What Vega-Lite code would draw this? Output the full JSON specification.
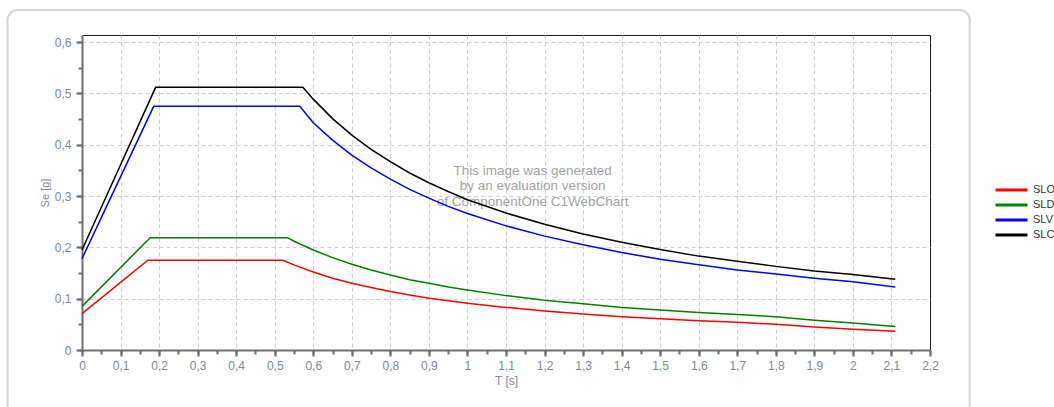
{
  "$schema": "https://vega.github.io/schema/vega-lite/v6.json",
  "width": 848,
  "height": 315,
  "autosize": {"type": "none"},
  "padding": {"left": 82, "top": 35, "right": 124, "bottom": 57},
  "background": "white",
  "config": {
    "font": "Liberation Sans",
    "view": {"stroke": "#1a1a1a", "strokeWidth": 1},
    "axis": {
      "labelFont": "Liberation Sans",
      "titleFont": "Liberation Sans",
      "labelFontSize": 12,
      "titleFontSize": 12,
      "titleFontWeight": "normal",
      "labelColor": "#7d8898",
      "titleColor": "#7d8898",
      "domainColor": "#6e6e6e",
      "domainWidth": 2,
      "tickColor": "#6e6e6e",
      "tickWidth": 2,
      "gridColor": "#cfcfcf",
      "gridDash": [4, 3],
      "gridWidth": 1
    },
    "legend": {
      "labelFont": "Liberation Sans",
      "labelFontSize": 11,
      "labelColor": "#333333"
    }
  },
  "resolve": {"axis": {"x": "independent", "y": "independent"}},
  "datasets": {
    "spectra": [
      {"T": 0, "Se": 0.195, "state": "SLC"},
      {"T": 0.191, "Se": 0.512, "state": "SLC"},
      {"T": 0.573, "Se": 0.512, "state": "SLC"},
      {"T": 0.6, "Se": 0.489, "state": "SLC"},
      {"T": 0.65, "Se": 0.451, "state": "SLC"},
      {"T": 0.7, "Se": 0.419, "state": "SLC"},
      {"T": 0.75, "Se": 0.391, "state": "SLC"},
      {"T": 0.8, "Se": 0.367, "state": "SLC"},
      {"T": 0.85, "Se": 0.345, "state": "SLC"},
      {"T": 0.9, "Se": 0.326, "state": "SLC"},
      {"T": 0.95, "Se": 0.309, "state": "SLC"},
      {"T": 1.0, "Se": 0.293, "state": "SLC"},
      {"T": 1.1, "Se": 0.267, "state": "SLC"},
      {"T": 1.2, "Se": 0.245, "state": "SLC"},
      {"T": 1.3, "Se": 0.226, "state": "SLC"},
      {"T": 1.4, "Se": 0.21, "state": "SLC"},
      {"T": 1.5, "Se": 0.196, "state": "SLC"},
      {"T": 1.6, "Se": 0.183, "state": "SLC"},
      {"T": 1.7, "Se": 0.173, "state": "SLC"},
      {"T": 1.8, "Se": 0.163, "state": "SLC"},
      {"T": 1.9, "Se": 0.154, "state": "SLC"},
      {"T": 2.0, "Se": 0.147, "state": "SLC"},
      {"T": 2.11, "Se": 0.138, "state": "SLC"},

      {"T": 0, "Se": 0.178, "state": "SLV"},
      {"T": 0.186, "Se": 0.475, "state": "SLV"},
      {"T": 0.565, "Se": 0.475, "state": "SLV"},
      {"T": 0.6, "Se": 0.443, "state": "SLV"},
      {"T": 0.65, "Se": 0.409, "state": "SLV"},
      {"T": 0.7, "Se": 0.38, "state": "SLV"},
      {"T": 0.75, "Se": 0.355, "state": "SLV"},
      {"T": 0.8, "Se": 0.333, "state": "SLV"},
      {"T": 0.85, "Se": 0.313, "state": "SLV"},
      {"T": 0.9, "Se": 0.296, "state": "SLV"},
      {"T": 0.95, "Se": 0.28, "state": "SLV"},
      {"T": 1.0, "Se": 0.266, "state": "SLV"},
      {"T": 1.1, "Se": 0.242, "state": "SLV"},
      {"T": 1.2, "Se": 0.222, "state": "SLV"},
      {"T": 1.3, "Se": 0.205, "state": "SLV"},
      {"T": 1.4, "Se": 0.19, "state": "SLV"},
      {"T": 1.5, "Se": 0.177, "state": "SLV"},
      {"T": 1.6, "Se": 0.166, "state": "SLV"},
      {"T": 1.7, "Se": 0.156, "state": "SLV"},
      {"T": 1.8, "Se": 0.148, "state": "SLV"},
      {"T": 1.9, "Se": 0.14, "state": "SLV"},
      {"T": 2.0, "Se": 0.133, "state": "SLV"},
      {"T": 2.11, "Se": 0.123, "state": "SLV"},

      {"T": 0, "Se": 0.085, "state": "SLD"},
      {"T": 0.177, "Se": 0.219, "state": "SLD"},
      {"T": 0.533, "Se": 0.219, "state": "SLD"},
      {"T": 0.55, "Se": 0.212, "state": "SLD"},
      {"T": 0.6, "Se": 0.195, "state": "SLD"},
      {"T": 0.65, "Se": 0.18, "state": "SLD"},
      {"T": 0.7, "Se": 0.167, "state": "SLD"},
      {"T": 0.75, "Se": 0.156, "state": "SLD"},
      {"T": 0.8, "Se": 0.146, "state": "SLD"},
      {"T": 0.85, "Se": 0.137, "state": "SLD"},
      {"T": 0.9, "Se": 0.13, "state": "SLD"},
      {"T": 0.95, "Se": 0.123, "state": "SLD"},
      {"T": 1.0, "Se": 0.117, "state": "SLD"},
      {"T": 1.1, "Se": 0.106, "state": "SLD"},
      {"T": 1.2, "Se": 0.097, "state": "SLD"},
      {"T": 1.3, "Se": 0.09, "state": "SLD"},
      {"T": 1.4, "Se": 0.083, "state": "SLD"},
      {"T": 1.5, "Se": 0.078, "state": "SLD"},
      {"T": 1.6, "Se": 0.073, "state": "SLD"},
      {"T": 1.7, "Se": 0.069, "state": "SLD"},
      {"T": 1.8, "Se": 0.065, "state": "SLD"},
      {"T": 1.9, "Se": 0.058, "state": "SLD"},
      {"T": 2.0, "Se": 0.0525, "state": "SLD"},
      {"T": 2.11, "Se": 0.046, "state": "SLD"},

      {"T": 0, "Se": 0.071, "state": "SLO"},
      {"T": 0.171, "Se": 0.175, "state": "SLO"},
      {"T": 0.521, "Se": 0.175, "state": "SLO"},
      {"T": 0.55, "Se": 0.166, "state": "SLO"},
      {"T": 0.6, "Se": 0.152, "state": "SLO"},
      {"T": 0.65, "Se": 0.14, "state": "SLO"},
      {"T": 0.7, "Se": 0.13, "state": "SLO"},
      {"T": 0.75, "Se": 0.122, "state": "SLO"},
      {"T": 0.8, "Se": 0.114, "state": "SLO"},
      {"T": 0.85, "Se": 0.107, "state": "SLO"},
      {"T": 0.9, "Se": 0.101, "state": "SLO"},
      {"T": 0.95, "Se": 0.096, "state": "SLO"},
      {"T": 1.0, "Se": 0.091, "state": "SLO"},
      {"T": 1.1, "Se": 0.083, "state": "SLO"},
      {"T": 1.2, "Se": 0.076, "state": "SLO"},
      {"T": 1.3, "Se": 0.07, "state": "SLO"},
      {"T": 1.4, "Se": 0.065, "state": "SLO"},
      {"T": 1.5, "Se": 0.061, "state": "SLO"},
      {"T": 1.6, "Se": 0.057, "state": "SLO"},
      {"T": 1.7, "Se": 0.054, "state": "SLO"},
      {"T": 1.8, "Se": 0.05, "state": "SLO"},
      {"T": 1.9, "Se": 0.045, "state": "SLO"},
      {"T": 2.0, "Se": 0.0406, "state": "SLO"},
      {"T": 2.11, "Se": 0.0365, "state": "SLO"}
    ]
  },
  "layer": [
    {
      "data": {"values": [{}]},
      "mark": {"type": "rect", "fill": null, "stroke": "#d4d4d4", "strokeWidth": 2, "cornerRadius": 10, "clip": false},
      "encoding": {
        "x": {
          "datum": -0.193,
          "type": "quantitative",
          "scale": {"domain": [0, 2.2], "nice": false, "zero": false},
          "axis": {
            "orient": "bottom",
            "title": null,
            "values": [0, 0.05, 0.1, 0.15, 0.2, 0.25, 0.3, 0.35, 0.4, 0.45, 0.5, 0.55, 0.6, 0.65, 0.7, 0.75, 0.8, 0.85, 0.9, 0.95, 1, 1.05, 1.1, 1.15, 1.2, 1.25, 1.3, 1.35, 1.4, 1.45, 1.5, 1.55, 1.6, 1.65, 1.7, 1.75, 1.8, 1.85, 1.9, 1.95, 2, 2.05, 2.1, 2.15, 2.2],
            "labels": false,
            "grid": false,
            "domain": false,
            "tickSize": 4
          }
        },
        "x2": {"datum": 2.303},
        "y": {
          "datum": 0.6627,
          "type": "quantitative",
          "scale": {"domain": [0, 0.614], "nice": false, "zero": false},
          "axis": {
            "orient": "left",
            "title": null,
            "values": [0, 0.05, 0.1, 0.15, 0.2, 0.25, 0.3, 0.35, 0.4, 0.45, 0.5, 0.55, 0.6],
            "labels": false,
            "grid": false,
            "domain": false,
            "tickSize": 4
          }
        },
        "y2": {"datum": -0.15}
      }
    },
    {
      "data": {"values": [{}]},
      "mark": {
        "type": "text",
        "text": ["This image was generated", "by an evaluation version", "of ComponentOne C1WebChart"],
        "font": "Liberation Sans",
        "fontSize": 13.5,
        "lineHeight": 15.5,
        "color": "#a3a3a3",
        "align": "center",
        "baseline": "middle"
      },
      "encoding": {
        "x": {
          "datum": 1.169,
          "type": "quantitative",
          "axis": {
            "orient": "bottom",
            "title": null,
            "values": [2.2],
            "labelExpr": "'2,2'",
            "labelFlush": false,
            "labelOverlap": false,
            "grid": false,
            "domain": false,
            "tickSize": 6,
            "labelPadding": 4
          }
        },
        "y": {"datum": 0.3495, "type": "quantitative", "axis": null}
      }
    },
    {
      "data": {"name": "spectra"},
      "mark": {"type": "line", "strokeWidth": 1.5, "interpolate": "linear"},
      "encoding": {
        "x": {
          "field": "T",
          "type": "quantitative",
          "title": "T [s]",
          "axis": {
            "orient": "bottom",
            "values": [0, 0.1, 0.2, 0.3, 0.4, 0.5, 0.6, 0.7, 0.8, 0.9, 1, 1.1, 1.2, 1.3, 1.4, 1.5, 1.6, 1.7, 1.8, 1.9, 2, 2.1],
            "labelExpr": "replace(format(datum.value, '~g'), '.', ',')",
            "labelOverlap": false,
            "labelFlush": false,
            "grid": true,
            "tickSize": 6,
            "labelPadding": 4,
            "titlePadding": 4
          }
        },
        "y": {
          "field": "Se",
          "type": "quantitative",
          "title": "Se [g]",
          "axis": {
            "orient": "left",
            "values": [0, 0.1, 0.2, 0.3, 0.4, 0.5, 0.6],
            "labelExpr": "replace(format(datum.value, '~g'), '.', ',')",
            "labelOverlap": false,
            "labelFlush": false,
            "grid": true,
            "tickSize": 6,
            "labelPadding": 5,
            "titlePadding": 4,
            "titleFontSize": 11
          }
        },
        "color": {
          "field": "state",
          "type": "nominal",
          "scale": {"domain": ["SLO", "SLD", "SLV", "SLC"], "range": ["#ff0000", "#008000", "#0000ff", "#000000"]},
          "legend": {
            "title": null,
            "orient": "none",
            "legendX": 924,
            "legendY": 149.5,
            "symbolType": "M-5.33,0H5.33",
            "symbolSize": 36,
            "symbolStrokeWidth": 3,
            "labelOffset": 16,
            "rowPadding": 2,
            "padding": 0
          }
        }
      }
    }
  ]
}
